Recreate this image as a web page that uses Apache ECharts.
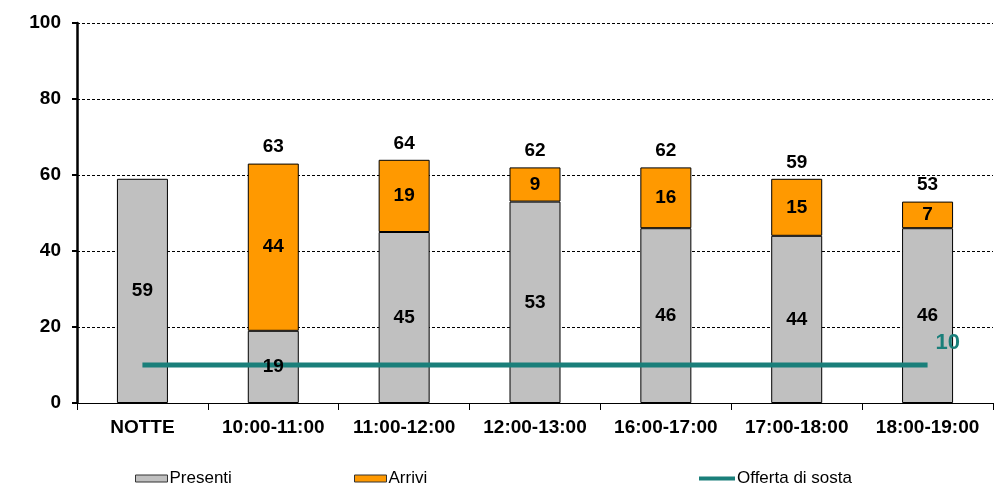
<!DOCTYPE html>
<html><head><meta charset="utf-8">
<script src="https://cdn.jsdelivr.net/npm/echarts@6/dist/echarts.min.js"></script>
<style>html,body{margin:0;padding:0;background:#fff}#c{width:998px;height:497px}</style>
</head><body><div id="c"></div>
<script>
var categories = ['NOTTE','10:00-11:00','11:00-12:00','12:00-13:00','16:00-17:00','17:00-18:00','18:00-19:00'];
var presenti = [59,19,45,53,46,44,46];
var arrivi = [0,44,19,9,16,15,7];
var totali = [null,63,64,62,62,59,53];
var offerta = [10,10,10,10,10,10,10];
var yTicks = [0,20,40,60,80,100];

var FONT = 'Liberation Sans, Arial, sans-serif';
var TEAL = '#1a7f7a';
var chart = echarts.init(document.getElementById('c'), null, {renderer:'canvas'});
var arriviData = arrivi.map(function(v){ return v === 0 ? '-' : v; });
var totalData = totali.map(function(v){ return v == null ? '-' : 0; });
var lbl = {show:true, position:'inside', color:'#000', fontFamily:FONT, fontSize:19, fontWeight:'bold'};
var clear = {color:'rgba(0,0,0,0)', borderWidth:0};
var legText = {fontFamily:FONT, fontSize:17, color:'#000', padding:[0,0,0,-3]};
chart.setOption({
  animation:false,
  grid:{left:77, right:5, top:23, bottom:94, containLabel:false},
  legend:[
    {data:[{name:'Presenti', icon:'rect', itemStyle:{borderColor:'#333', borderWidth:1}}], left:135, top:470, padding:0, itemWidth:32, itemHeight:7, textStyle:legText},
    {data:[{name:'Arrivi', icon:'rect', itemStyle:{borderColor:'#333', borderWidth:1}}], left:354, top:470, padding:0, itemWidth:32, itemHeight:7, textStyle:legText},
    {data:[{name:'Offerta di sosta', icon:'path://M0,0 L36,0 L36,4 L0,4 Z'}], left:699, top:470, padding:0, itemWidth:36, itemHeight:4, textStyle:legText}
  ],
  xAxis:{
    type:'category', data:categories,
    axisLine:{lineStyle:{color:'#000', width:1}},
    axisTick:{show:true, interval:0, alignWithLabel:false, length:7, lineStyle:{color:'#000'}},
    axisLabel:{interval:0, color:'#000', fontFamily:FONT, fontSize:19, fontWeight:'bold', margin:15}
  },
  yAxis:{
    type:'value', min:yTicks[0], max:yTicks[yTicks.length-1], interval:20,
    axisLine:{show:true, lineStyle:{color:'#000', width:2.5}},
    axisTick:{show:true, length:5, lineStyle:{color:'#000', width:2}},
    axisLabel:{color:'#000', fontFamily:FONT, fontSize:19, fontWeight:'bold', margin:16},
    splitLine:{show:true, lineStyle:{color:'#000', type:[3,2], width:1}}
  },
  series:[
    {name:'Presenti', type:'bar', stack:'s', barWidth:51, barGap:'-100%', data:presenti, z:2,
     itemStyle:{color:'#c0c0c0', borderColor:'#000', borderWidth:1}},
    {name:'Arrivi', type:'bar', stack:'s', barWidth:51, barGap:'-100%', data:arriviData, z:2,
     itemStyle:{color:'#ff9900', borderColor:'#000', borderWidth:1}},
    {name:'Offerta di sosta', type:'line', data:offerta, symbol:'none', z:3,
     lineStyle:{color:TEAL, width:5}, itemStyle:{color:TEAL},
     endLabel:{show:true, formatter:'{c}', color:TEAL, fontFamily:FONT, fontSize:22, fontWeight:'bold', distance:0, offset:[8,-22]}},
    {name:'lbl-p', type:'bar', stack:'l', barWidth:51, barGap:'-100%', data:presenti, z:4, silent:true,
     itemStyle:clear, label:lbl},
    {name:'lbl-a', type:'bar', stack:'l', barWidth:51, barGap:'-100%', data:arriviData, z:4, silent:true,
     itemStyle:clear, label:lbl},
    {name:'lbl-t', type:'bar', stack:'l', barWidth:51, barGap:'-100%', data:totalData, z:4, silent:true,
     itemStyle:clear,
     label:{show:true, position:'top', distance:7, color:'#000', fontFamily:FONT, fontSize:19, fontWeight:'bold',
       formatter:function(p){ var t = totali[p.dataIndex]; return t == null ? '' : String(t); }}}
  ]
});
</script></body></html>
